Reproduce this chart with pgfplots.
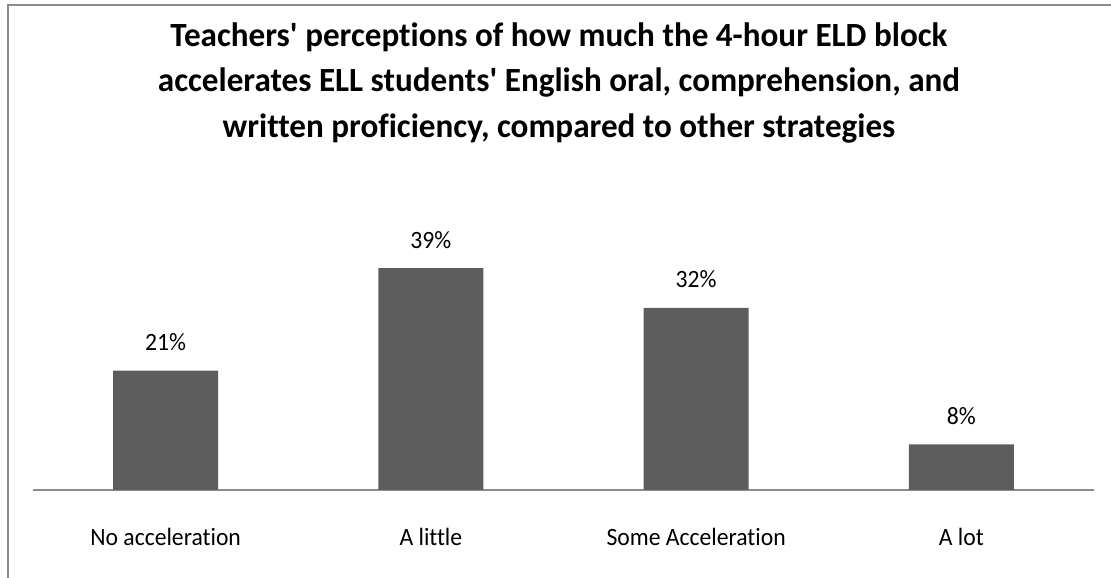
\documentclass[border=0pt]{standalone}
\usepackage{fontspec}
\setmainfont{Carlito}[FakeStretch=0.95, Ligatures={NoCommon}]
\newfontfamily\titlefont{Carlito}[FakeStretch=0.978, Ligatures={NoCommon}]
\usepackage{pgfplots}
\pgfplotsset{compat=1.18}
\definecolor{barc}{HTML}{5D5D5D}
\definecolor{bordc}{HTML}{8C8C8C}
\begin{document}
\begin{tikzpicture}[x=1bp,y=1bp]
\useasboundingbox (0,0) rectangle (1111,578);
\draw[bordc, line width=2bp] (8,0) -- (8,573) -- (1111,573);
\node[anchor=base, inner sep=0, font=\titlefont\fontsize{34}{40}\selectfont\bfseries] at (559,531) {Teachers\textquotesingle{} perceptions of how much the 4-hour ELD block};
\node[anchor=base, inner sep=0, font=\titlefont\fontsize{34}{40}\selectfont\bfseries] at (559,486) {accelerates ELL students\textquotesingle{} English oral, comprehension, and};
\node[anchor=base, inner sep=0, font=\titlefont\fontsize{34}{40}\selectfont\bfseries] at (559,440) {written proficiency, compared to other strategies};
\begin{axis}[
  at={(33bp,88bp)}, anchor=south west,
  scale only axis, width=1061bp, height=227.6bp,
  xmin=-0.5, xmax=3.5, ymin=0, ymax=40,
  axis x line=bottom, axis y line=none,
  x axis line style={-, draw=bordc, line width=1.3bp},
  xtick={0,1,2,3},
  xticklabels={No acceleration, A little, Some Acceleration, A lot},
  xtick style={draw=none},
  ytick=\empty,
  /pgf/number format/assume math mode=true,
  xticklabel style={anchor=base, yshift=-53bp, inner sep=0, font=\fontsize{25}{30}\selectfont, text=black},
  clip=false,
  nodes near coords={\pgfmathprintnumber{\pgfplotspointmeta}\%},
  every node near coord/.append style={anchor=base, yshift=20bp, inner sep=0, font=\fontsize{25}{30}\selectfont, text=black},
]
\addplot[ybar, bar width=105bp, fill=barc, draw=none] coordinates {(0,21) (1,39) (2,32) (3,8)};
\end{axis}
\end{tikzpicture}
\end{document}
